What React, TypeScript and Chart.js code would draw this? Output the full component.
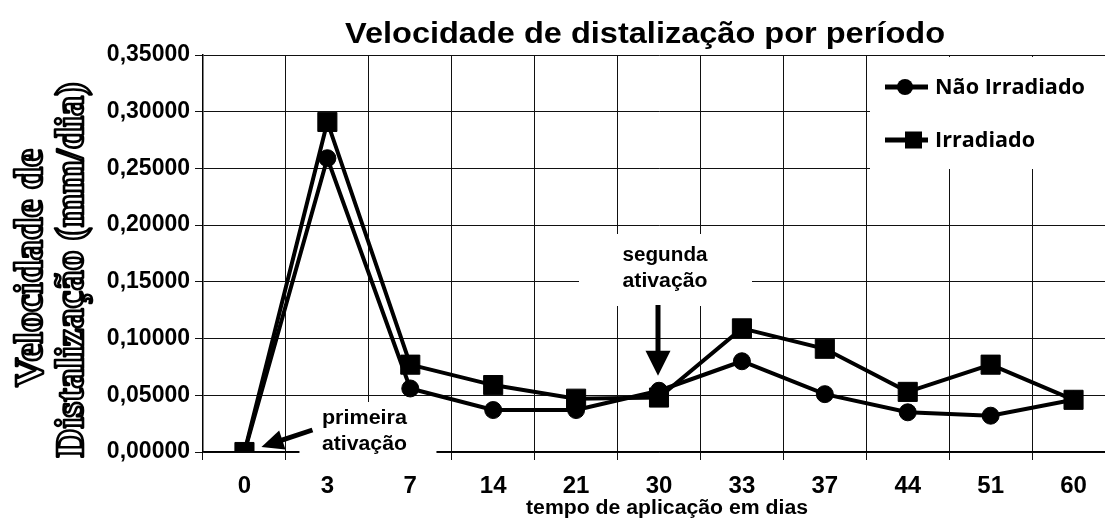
import React, { useEffect, useRef } from 'react';
import { Chart, registerables } from 'chart.js';

Chart.register(...registerables);

// ---- data ----
const categories = ['0', '3', '7', '14', '21', '30', '33', '37', '44', '51', '60'];
const naoIrradiado = [0, 0.259, 0.056, 0.037, 0.037, 0.054, 0.080, 0.051, 0.035, 0.032, 0.046];
const irradiado = [0, 0.291, 0.077, 0.059, 0.047, 0.048, 0.109, 0.091, 0.053, 0.077, 0.046];
const seriesNames = ['Não Irradiado', 'Irradiado'];
const yMin = 0;
const yMax = 0.35;
const yStep = 0.05;

const titleText = 'Velocidade de distalização por período';
const yTitleLines = ['Velocidade de', 'Distalização (mm/dia)'];
const xTitleText = 'tempo de aplicação em dias';
const firstNote = ['primeira', 'ativação'];
const secondNote = ['segunda', 'ativação'];
const firstNoteIndex = 0;
const secondNoteIndex = 5;

// ---- layout / style ----
const W = 1120;
const H = 520;
const SANS = "'Liberation Sans', Arial, Helvetica, sans-serif";
const SERIF = "'Liberation Serif', 'Times New Roman', serif";
const LEGEND_FONT = "'Open Sans', 'Liberation Sans', sans-serif";

function fitText(ctx: CanvasRenderingContext2D, text: string, x: number, y: number, width: number, font: string, rotate = false, outline = false) {
  ctx.save();
  ctx.font = font;
  const m = ctx.measureText(text).width;
  ctx.translate(x, y);
  if (rotate) ctx.rotate(-Math.PI / 2);
  ctx.scale(width / m, 1);
  ctx.textAlign = 'center';
  ctx.textBaseline = 'alphabetic';
  if (outline) {
    ctx.fillStyle = '#fff';
    ctx.fillText(text, 0, 0);
    ctx.strokeStyle = '#000';
    ctx.lineWidth = 2.6;
    ctx.lineJoin = 'round';
    ctx.strokeText(text, 0, 0);
  } else {
    ctx.fillStyle = '#000';
    ctx.fillText(text, 0, 0);
  }
  ctx.restore();
}

function drawArrow(ctx: CanvasRenderingContext2D, x1: number, y1: number, x2: number, y2: number, headLen: number, headW: number, lw: number) {
  const ang = Math.atan2(y2 - y1, x2 - x1);
  const c = Math.cos(ang);
  const s = Math.sin(ang);
  const bx = x2 - headLen * c;
  const by = y2 - headLen * s;
  ctx.save();
  ctx.strokeStyle = '#000';
  ctx.fillStyle = '#000';
  ctx.lineWidth = lw;
  ctx.beginPath();
  ctx.moveTo(x1, y1);
  ctx.lineTo(bx + 2 * c, by + 2 * s);
  ctx.stroke();
  ctx.beginPath();
  ctx.moveTo(x2, y2);
  ctx.lineTo(bx - (headW / 2) * s, by + (headW / 2) * c);
  ctx.lineTo(bx + (headW / 2) * s, by - (headW / 2) * c);
  ctx.closePath();
  ctx.fill();
  ctx.restore();
}

const decorPlugin = {
  id: 'decor',
  beforeDatasetsDraw(chart: any) {
    const ctx = chart.ctx as CanvasRenderingContext2D;
    const xs = chart.scales.x;
    const x1 = xs.getPixelForValue(firstNoteIndex);
    const x2 = xs.getPixelForValue(secondNoteIndex);
    const a = chart.chartArea;
    ctx.save();
    ctx.fillStyle = '#fff';
    // note backgrounds
    ctx.fillRect(x1 + 55, 402, 137, 62);
    ctx.fillRect(x2 - 80, 234, 173, 72);
    // legend box
    ctx.fillRect(870, a.top + 2, W - 870, 112);
    ctx.restore();
  },
  afterDatasetsDraw(chart: any) {
    const ctx = chart.ctx as CanvasRenderingContext2D;
    const xs = chart.scales.x;
    const ys = chart.scales.y;

    // title
    fitText(ctx, titleText, 645, 43, 600, `bold 30px ${SANS}`);

    // y title (outlined serif)
    fitText(ctx, yTitleLines[0], 42, 268, 238, `bold 40px ${SERIF}`, true, true);
    fitText(ctx, yTitleLines[1], 83, 270, 375, `bold 40px ${SERIF}`, true, true);

    // x title
    fitText(ctx, xTitleText, 667, 514, 282, `bold 20px ${SANS}`);

    // first note
    const p1x = xs.getPixelForValue(firstNoteIndex);
    const p1y = ys.getPixelForValue(irradiado[firstNoteIndex]);
    fitText(ctx, firstNote[0], p1x + 120, 424, 85, `bold 20px ${SANS}`);
    fitText(ctx, firstNote[1], p1x + 120, 450, 85, `bold 20px ${SANS}`);
    drawArrow(ctx, p1x + 68, p1y - 22, p1x + 17, p1y - 5, 22, 20, 5);

    // second note
    const p2x = xs.getPixelForValue(secondNoteIndex);
    const p2y = ys.getPixelForValue(naoIrradiado[secondNoteIndex]);
    fitText(ctx, secondNote[0], p2x + 6, 261, 85, `bold 20px ${SANS}`);
    fitText(ctx, secondNote[1], p2x + 6, 287, 85, `bold 20px ${SANS}`);
    drawArrow(ctx, p2x - 1, 305, p2x - 1, p2y - 15, 25, 25, 5);

    // legend
    const rows = [87, 140];
    ctx.save();
    ctx.strokeStyle = '#000';
    ctx.fillStyle = '#000';
    for (let i = 0; i < seriesNames.length; i++) {
      const y = rows[i];
      ctx.lineWidth = 5;
      ctx.beginPath();
      ctx.moveTo(885, y);
      ctx.lineTo(928, y);
      ctx.stroke();
      if (i === 0) {
        ctx.beginPath();
        ctx.arc(905, y, 8, 0, Math.PI * 2);
        ctx.fill();
      } else {
        ctx.fillRect(905, y - 8.5, 17, 17);
      }
      ctx.save();
      ctx.font = `bold 21px ${LEGEND_FONT}`;
      ctx.textBaseline = 'middle';
      ctx.textAlign = 'left';
      const target = i === 0 ? 150 : 100;
      const m = ctx.measureText(seriesNames[i]).width;
      ctx.translate(935, y + 1);
      ctx.scale(target / m, 1);
      ctx.fillText(seriesNames[i], 0, 0);
      ctx.restore();
    }
    ctx.restore();
  },
};

export default function App() {
  const ref = useRef<HTMLCanvasElement | null>(null);

  useEffect(() => {
    const canvas = ref.current;
    if (!canvas) return;
    const chart = new Chart(canvas, {
      type: 'line',
      data: {
        labels: categories,
        datasets: [
          {
            label: seriesNames[0],
            data: naoIrradiado,
            order: 1,
            borderColor: '#000',
            borderWidth: 4,
            pointStyle: 'circle',
            pointRadius: 8.5,
            pointBackgroundColor: '#000',
            pointBorderColor: '#000',
            pointBorderWidth: 1,
            tension: 0,
            fill: false,
          },
          {
            label: seriesNames[1],
            data: irradiado,
            order: 0,
            borderColor: '#000',
            borderWidth: 4,
            pointStyle: 'rect',
            pointRadius: 13.5,
            pointBackgroundColor: '#000',
            pointBorderColor: '#000',
            pointBorderWidth: 1,
            tension: 0,
            fill: false,
          },
        ],
      },
      options: {
        responsive: false,
        animation: false,
        devicePixelRatio: 1,
        layout: { autoPadding: false, padding: { left: 0, top: 55, right: 5, bottom: 0 } },
        plugins: {
          legend: { display: false },
          title: { display: false },
          tooltip: { enabled: false },
        },
        scales: {
          x: {
            type: 'category',
            offset: true,
            grid: { offset: true, color: '#111', lineWidth: 1, drawTicks: true, tickLength: 8, tickColor: '#111' },
            border: { color: '#000', width: 1.5 },
            ticks: {
              color: '#000',
              font: { family: SANS, size: 24, weight: 'bold' },
              padding: 12,
              maxRotation: 0,
              autoSkip: false,
            },
            afterFit: (s: any) => {
              s.height = 68;
              s.paddingLeft = 0;
              s.paddingRight = 0;
            },
          },
          y: {
            min: yMin,
            max: yMax,
            grid: { color: '#111', lineWidth: 1, drawTicks: true, tickLength: 8, tickColor: '#111' },
            border: { color: '#000', width: 1.5 },
            ticks: {
              stepSize: yStep,
              color: '#000',
              font: { family: SANS, size: 23, weight: 'bold' },
              padding: 5,
              callback: (v: any) => Number(v).toFixed(5).replace('.', ','),
            },
            afterFit: (s: any) => { s.width = 203; },
          },
        },
      },
      plugins: [decorPlugin],
    });
    return () => chart.destroy();
  }, []);

  return (
    <div style={{ position: 'fixed', left: 0, top: 0, width: 1105, height: 520, overflow: 'hidden', background: '#fff' }}>
      <canvas ref={ref} width={W} height={H} style={{ display: 'block', width: W, height: H }} />
    </div>
  );
}
